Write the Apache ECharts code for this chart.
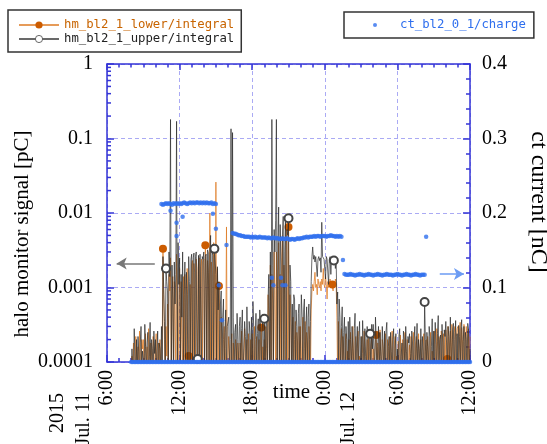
<!DOCTYPE html>
<html>
<head>
<meta charset="utf-8">
<script src="https://cdn.jsdelivr.net/npm/echarts@6/dist/echarts.min.js"></script>
<style>
  html, body { margin: 0; padding: 0; background: #fff; }
  #chart { width: 547px; height: 444px; }
</style>
</head>
<body>
<div id="chart"></div>
<script>
// hours are counted from Jul. 11 0:00
// halo monitor: one reading every 3.75 min starting at 8:00, 16 per row (= 1 hour)
const hmStart = 8
const hmStep = 0.0625

// hm_bl2_1_lower/integral in fC (1000 fC = 1 pC); values under 0.1 fC fall below the axis
const lowerIntegralFc = [
  .06, .12, .06, .18, .1, .06, .22, .14, .06, .16, .06, .26, .12, .06, .2, .15,
  .2, .06, .13, .24, .06, .16, .06, .28, .15, .06, .18, .12, .06, .22, .16, .06,
  .14, .24, .06, .12, .18, .06, .2, .1, .06, .16, 3.3, .8, .2, .06, .3, .12,
  .6, .06, 1.5, .9, 2.5, .06, .8, 1.4, .06, 1.2, .5, .06, 2.8, .9, .06, .6,
  1.8, .06, 1.2, .2, .06, 1.4, .06, 1.5, .9, .06, 1.8, .4, .12, .06, 1.1, .06,
  2, 2.3, .06, 2.1, 1.6, .06, 2.4, 1.8, .06, 2.2, 2.5, .06, 1.9, 2.4, .06, 2.2,
  2.4, .06, 3.7, 2, .06, 2.3, 1.6, .06, 10, .06, 2.2, 1.5, .06, 4, 2, .06,
  26, .06, 1.8, .06, 1.05, .5, .06, .4, .25, .06, .2, .3, .06, .15, 6.5, .06,
  .06, .22, .12, .06, .16, .24, .06, .18, .1, .06, .2, .15, .06, .18, .12, .06,
  .18, .06, .26, .12, .06, .14, .28, .06, .12, .2, .06, .24, .16, .06, .2, .1,
  .24, .06, .15, .3, .06, .16, .22, .06, .12, .2, .06, .18, .29, .06, .16, .06,
  .2, .06, .3, .15, .06, .8, .4, .06, 2, .06, 1.5, .7, .06, 3, .9, .06,
  3, .06, 1.2, 4, .06, 1.5, .06, 2.5, 5, .06, 2, .8, .06, 6, 3, .06,
  6.5, .06, .8, .5, .06, .3, .4, .06, .2, .35, .06, .25, .18, .06, .3, .06,
  .3, .06, .2, .4, .06, .15, .35, .06, .25, .18, .06, .3, .2, .06, .5, .9,
  1.1, .9, 1.2, 1.6, 1, 1.1, .8, 1.3, 1.1, 1, 1.2, .9, 1.3, 1.1, 1.8, 1.1,
  1, 1.4, 1.1, .7, 1.2, 1, 1.1, 1.3, 1, 1.1, 1.1, .9, 1.2, 1, 1.3, 1.1,
  .4, .06, .35, .2, .06, .16, .28, .06, .22, .12, .06, .18, .24, .06, .14, .06,
  .2, .06, .25, .14, .06, .3, .12, .06, .18, .22, .06, .15, .26, .06, .12, .06,
  .06, .22, .13, .06, .26, .16, .06, .1, .2, .06, .24, .14, .06, .17, .21, .06,
  .15, .06, .12, .2, .23, .06, .18, .14, .06, .27, .12, .06, .2, .16, .06, .16,
  .24, .12, .06, .2, .15, .06, .22, .1, .06, .26, .14, .06, .18, .22, .06, .12,
  .06, .19, .14, .06, .23, .12, .06, .2, .16, .06, .25, .13, .06, .2, .15, .06,
  .17, .06, .22, .13, .06, .25, .15, .06, .18, .22, .06, .14, .24, .06, .16, .2,
  .21, .06, .16, .24, .06, .14, .2, .06, .22, .12, .06, .18, .25, .06, .14, .06,
  .06, .26, .15, .06, .28, .19, .06, .22, .14, .06, .26, .2, .06, .24, .17, .06,
  .27, .06, .11, .3, .06, .18, .26, .06, .32, .2, .06, .25, .3, .06, .22, .28,
  .3, .06, .26, .34, .06, .29, .2, .06, .32, .25, .06, .3, .22, .06, .28, .06,
  .22
]

// hm_bl2_1_upper/integral in fC
const upperIntegralFc = [
  .06, .15, .09, .06, .28, .12, .06, .2, .06, .22, .14, .06, .18, .3, .06, .14,
  .11, .06, .32, .16, .06, .18, .25, .06, .12, .34, .06, .2, .15, .06, .26, .13,
  .2, .06, .14, .26, .06, .18, .15, .06, .3, .06, 2.6, .9, .35, .06, 1.8, 1.2,
  .9, .06, 3, 1.4, 180, .06, 2, .7, .06, 2.2, .6, 1.5, 170, .06, 4, 1.1,
  2.5, .06, 1.5, .4, 3, .06, .8, 2.2, .06, 1.6, .8, .06, 2.6, 1.2, .06, 2.4,
  2.8, .06, 2.5, 2.9, .06, 2.6, 3, .06, .11, 2.7, .06, 2.8, 2.9, .06, 2.6, 2.4,
  3, .06, 2.6, 2.8, .06, 3.2, 2.9, .06, 2.8, 5, .06, 3.1, 2.7, .06, 3.3, 3.4,
  1.5, .06, 1.9, .5, 1.2, .06, .6, .9, .06, .4, .7, .06, .25, .5, .06, .3,
  .3, .4, .06, .2, 135, .06, 120, .4, .06, .25, .32, .06, .45, .2, .06, .3,
  .4, .06, .28, .5, .06, .15, .35, .22, .06, .55, .18, .06, .35, .25, .06, .4,
  .06, .65, .3, .06, .2, .45, .06, .24, .38, .06, .5, .3, .06, .28, .36, .06,
  .38, .06, .3, .4, .06, .7, 1.5, .06, 3, .06, 180, 2, .06, 6, 3, 8,
  180, .06, 4, 12, .06, 7, 2, .06, 5, 9, .06, 3, 9, .06, 6, 5,
  8.5, .06, 2, 1.2, .06, .6, .06, .8, .7, .06, .5, .3, .06, .45, .6, .06,
  .06, .8, .4, .06, .5, .7, .06, .3, .55, .06, .4, .6, .06, .35, 1.2, 2.6,
  3.5, 2.4, 2.7, 2.2, 2.6, 2.5, 1.4, 2.4, 2.6, 2.3, 2.5, 1.6, 7.5, 2.6, 2.5, 2.4,
  2.5, 1.3, 2.6, 2.4, 2.5, 1.1, 2.4, 2.6, 1.5, 2.5, 2.6, 2.4, 2.3, 2.5, 1.8, 2.4,
  .6, .87, .06, .7, .4, .06, .3, .55, .06, .25, .4, .06, .3, .2, .06, .35,
  .06, .4, .2, .06, .3, .15, .06, .28, .45, .06, .18, .3, .06, .22, .35, .06,
  .22, .06, .36, .18, .06, .28, .12, .06, .3, .2, .06, .26, .24, .06, .32, .15,
  .32, .14, .06, .4, .2, .06, .16, .3, .06, .25, .12, .06, .3, .18, .06, .26,
  .06, .26, .34, .06, .16, .22, .06, .25, .14, .06, .2, .28, .06, .15, .24, .06,
  .15, .06, .22, .28, .06, .12, .18, .06, .26, .2, .06, .3, .14, .06, .22, .18,
  .24, .13, .06, .26, .18, .06, .19, .3, .06, .15, .33, .06, .2, .15, .06, .28,
  .06, .22, .14, .06, .64, .2, .06, .25, .16, .06, .3, .22, .06, .16, .38, .06,
  .26, .06, .34, .17, .06, .24, .42, .06, .2, .23, .06, .32, .18, .06, .27, .22,
  .35, .18, .06, .3, .22, .06, .4, .16, .06, .27, .33, .06, .2, .36, .06, .24,
  .06, .31, .22, .06, .28, .37, .06, .19, .3, .06, .25, .2, .06, .33, .28, .06,
  .15
]

// hours where the plotting program drew a marker on each line
const lowerMarks = [10.625, 12.75, 14.125, 15.25, 18.75, 21.0, 24.625, 28.25, 34.125]
const upperMarks = [10.875, 13.5, 14.875, 19.0, 21.0, 24.75, 27.75, 32.25]

// ct_bl2_0_1/charge [nC]: one reading every 7.5 min from 8:00, 8 per row (0 = no beam)
const ctStart = 8
const ctStep = 0.125
const ctCharge = [
  0, 0, 0, 0, 0, 0, 0, 0,
  0, 0, 0, 0, 0, 0, 0, 0,
  0, 0, 0, 0, .212, .211, .212, .213,
  .212, .213, .212, .211, .213, .212, .213, .212,
  .213, .212, .213, .214, .213, .212, .213, .214,
  .213, .214, .213, .214, .214, .213, .214, .213,
  .214, .213, .214, .213, .213, .214, .212, .213,
  .212, 0, 0, 0, 0, 0, 0, 0,
  0, 0, 0, .173, .172, .172, .171, .170,
  .170, .169, .169, .168, .168, .168, .168, .167,
  .168, .167, .168, .167, .167, .168, .167, .167,
  .167, .167, .166, .167, .166, .166, .167, .166,
  .166, .166, .165, .165, .166, .165, .165, .166,
  .165, .164, .165, .165, .164, .165, .166, .165,
  .166, .166, .167, .167, .168, .167, .168, .168,
  .168, .169, .168, .169, .169, .168, .169, .169,
  .169, .168, .169, .169, .170, .169, .169, .168,
  .169, .168, .169, .168, .137, .118, .117, .117,
  .117, .118, .117, .117, .116, .117, .117, .118,
  .117, .117, .116, .117, .117, .118, .117, .117,
  .116, .117, .117, .118, .117, .117, .116, .117,
  .117, .118, .117, .117, .117, .116, .117, .117,
  .118, .117, .117, .116, .117, .117, .118, .117,
  .117, .116, .117, .117, .118, .117, .117, .116,
  .117, .117, .117, .168, 0, 0, 0, 0,
  0, 0, 0, 0, 0, 0, 0, 0,
  0, 0, 0, 0, 0, 0, 0, 0,
  0, 0, 0, 0, 0, 0, 0, 0,
  0
]
// stray charge readings while the beam was switching [hour, nC]
const ctStray = [
  [11.25, .203], [11.75, .187], [11.75, .169], [12.25, .195], [14.75, .199],
  [15.0, .179], [15.25, .103], [15.5, .056], [15.875, .157],
  [19.625, .113], [19.75, .103], [20.375, .113], [20.5, .103], [20.75, .103]
]

const dateNotes = ['2015', 'Jul. 11', 'Jul. 12']

const axisBlue = '#3434d6'
const gridBlue = 'rgba(100,100,235,0.55)'
const orange = '#cc5c00'
const serif = 'Liberation Serif'
const mono = 'DejaVu Sans Mono'

const chart = echarts.init(document.getElementById('chart'))

function hasMark(list, t) {
  return list.some(m => Math.abs(m - t) < 1e-6)
}

// fC -> pC line data, with a marker only on the listed hours
function lineData(valsFc, marks, mark) {
  return valsFc.map((v, i) => {
    const t = hmStart + i * hmStep
    const pc = v / 1000
    if (hasMark(marks, t)) {
      return Object.assign({ value: [t, pc] }, mark)
    }
    return [t, pc]
  })
}

// charge readings: level, the zero readings between pulses, strays
let ctPoints = []
ctCharge.forEach((v, i) => {
  const t = ctStart + i * ctStep
  ctPoints.push([t, v])
  if (v > 0) ctPoints.push([t, 0])
})
ctPoints = ctPoints.concat(ctStray)

// minor ticks of the log axis (2..9 in each decade)
let logMinor = []
for (let d = -4; d < 0; d++) {
  for (let k = 2; k <= 9; k++) logMinor.push(k * Math.pow(10, d))
}

const tickLabel = { fontFamily: serif, fontSize: 20, color: '#000' }

const option = {
  animation: false,
  backgroundColor: '#fff',
  textStyle: { fontFamily: serif },
  grid: { left: 107, right: 77, top: 64, bottom: 82, containLabel: false, outerBoundsMode: 'none' },
  legend: [
    {
      left: 8, top: 10, orient: 'vertical',
      padding: [9, 7, 7, 10], itemGap: 2, itemWidth: 40, itemHeight: 9,
      borderColor: '#333', borderWidth: 1.5, backgroundColor: '#fff',
      selectedMode: false,
      textStyle: { fontFamily: mono, fontSize: 12.3 },
      data: [
        { name: 'hm_bl2_1_lower/integral', textStyle: { color: '#c86400' } },
        { name: 'hm_bl2_1_upper/integral', textStyle: { color: '#222' },
          itemStyle: { color: '#fff', borderColor: '#444', borderWidth: 0.8 } }
      ]
    },
    {
      left: 344, top: 12, orient: 'vertical',
      padding: [7, 8, 7, 29], itemWidth: 40, itemHeight: 4,
      borderColor: '#333', borderWidth: 1.5, backgroundColor: '#fff',
      selectedMode: false,
      textStyle: { fontFamily: mono, fontSize: 12.3 },
      data: [{ name: 'ct_bl2_0_1/charge', textStyle: { color: '#2f6fee' } }]
    }
  ],
  xAxis: [
    {
      type: 'value', position: 'bottom', min: 6, max: 36, interval: 6,
      name: 'time', nameLocation: 'middle', nameGap: 20, nameMoveOverlap: false,
      nameTextStyle: { fontFamily: serif, fontSize: 21, color: '#000', padding: [0, 0, 0, 6] },
      axisLine: { onZero: false, lineStyle: { color: axisBlue, width: 1.5 } },
      axisTick: { inside: true, length: 7, lineStyle: { color: axisBlue, width: 1.5 } },
      minorTick: { show: true, splitNumber: 6, length: 4, lineStyle: { color: axisBlue, width: 1.5 } },
      axisLabel: Object.assign({ rotate: 90, margin: 8, formatter: v => (v % 24) + ':00' }, tickLabel),
      splitLine: { show: true, lineStyle: { color: gridBlue, type: [4, 3], width: 1 } }
    },
    {
      type: 'value', position: 'top', min: 6, max: 36, interval: 6,
      axisLine: { onZero: false, lineStyle: { color: axisBlue, width: 1.5 } },
      axisTick: { inside: true, length: 6, lineStyle: { color: axisBlue, width: 1.5 } },
      minorTick: { show: true, splitNumber: 6, length: 3.5, lineStyle: { color: axisBlue, width: 1.5 } },
      axisLabel: { show: false },
      splitLine: { show: false }
    }
  ],
  yAxis: [
    {
      type: 'log', logBase: 10, min: 1e-4, max: 1, position: 'left',
      name: 'halo monitor signal [pC]', nameLocation: 'middle', nameGap: 74, nameMoveOverlap: false,
      nameTextStyle: { fontFamily: serif, fontSize: 21, color: '#000', padding: [0, 42, 0, 0] },
      axisLine: { onZero: false, lineStyle: { color: axisBlue, width: 1.5 } },
      axisTick: { inside: true, length: 7, lineStyle: { color: axisBlue, width: 1.5 } },
      axisLabel: Object.assign({ margin: 14, formatter: v => String(parseFloat(v.toPrecision(3))) }, tickLabel),
      splitLine: { show: true, lineStyle: { color: gridBlue, type: [4, 3], width: 1 } }
    },
    {
      type: 'value', min: 0, max: 0.4, interval: 0.1, position: 'right',
      name: 'ct current [nC]', nameLocation: 'middle', nameGap: 56, nameRotate: -90, nameMoveOverlap: false,
      nameTextStyle: { fontFamily: serif, fontSize: 24, color: '#000', padding: [0, 22, 0, 0] },
      axisLine: { onZero: false, lineStyle: { color: axisBlue, width: 1.5 } },
      axisTick: { inside: true, length: 7, lineStyle: { color: axisBlue, width: 1.5 } },
      minorTick: { show: true, splitNumber: 5, length: 4, lineStyle: { color: axisBlue, width: 1.5 } },
      axisLabel: Object.assign({ margin: 12 }, tickLabel),
      splitLine: { show: false }
    }
  ],
  graphic: [
    { type: 'text', x: 58, y: 393, rotation: Math.PI / 2,
      style: { text: dateNotes[0], font: '20px "Liberation Serif"', fill: '#000', textAlign: 'right', textVerticalAlign: 'middle' } },
    { type: 'text', x: 84, y: 393, rotation: Math.PI / 2,
      style: { text: dateNotes[1], font: '20px "Liberation Serif"', fill: '#000', textAlign: 'right', textVerticalAlign: 'middle' } },
    { type: 'text', x: 349, y: 392, rotation: Math.PI / 2,
      style: { text: dateNotes[2], font: '20px "Liberation Serif"', fill: '#000', textAlign: 'right', textVerticalAlign: 'middle' } }
  ],
  series: [
    {
      name: 'hm_bl2_1_lower/integral', type: 'line', xAxisIndex: 0, yAxisIndex: 0, z: 2,
      symbol: 'none', showSymbol: true,
      color: orange,
      lineStyle: { color: '#dd7a22', width: 1, opacity: 0.75 },
      itemStyle: { color: orange },
      data: lineData(lowerIntegralFc, lowerMarks, {
        symbol: 'circle', symbolSize: 8, itemStyle: { color: orange }, z: 5
      })
    },
    {
      name: 'hm_bl2_1_upper/integral', type: 'line', xAxisIndex: 0, yAxisIndex: 0, z: 3,
      symbol: 'none', showSymbol: true,
      color: '#2a2a2a',
      lineStyle: { color: '#2a2a2a', width: 1, opacity: 0.7 },
      itemStyle: { color: '#444' },
      data: lineData(upperIntegralFc, upperMarks, {
        symbol: 'emptyCircle', symbolSize: 8,
        itemStyle: { color: '#444', borderColor: '#444', borderWidth: 0.8 }
      }),
      markLine: {
        silent: true, symbol: ['arrow', 'none'], symbolSize: [9, 10],
        label: { show: false },
        lineStyle: { color: '#777', type: 'solid', width: 1.5 },
        data: [[{ coord: [6.8, 2.1e-3] }, { coord: [9.95, 2.1e-3] }]]
      }
    },
    {
      name: 'ct_bl2_0_1/charge', type: 'scatter', xAxisIndex: 0, yAxisIndex: 1, z: 4,
      symbol: 'circle', symbolSize: 4.5,
      itemStyle: { color: '#2f6fee' },
      data: ctPoints,
      markLine: {
        silent: true, symbol: ['none', 'arrow'], symbolSize: [9, 10],
        label: { show: false },
        lineStyle: { color: '#6b9bf3', type: 'solid', width: 1.5 },
        data: [[{ coord: [33.5, 0.118] }, { coord: [35.5, 0.118] }]]
      }
    },
    {
      name: 'logMinorTicks', type: 'custom', xAxisIndex: 0, yAxisIndex: 0, z: 5,
      silent: true, clip: false,
      data: logMinor.map(v => [6, v]),
      renderItem: (params, api) => {
        const p = api.coord([api.value(0), api.value(1)])
        return {
          type: 'line',
          shape: { x1: p[0], y1: p[1], x2: p[0] + 4, y2: p[1] },
          style: { stroke: axisBlue, lineWidth: 1.5 }
        }
      }
    }
  ]
}

chart.setOption(option)
</script>
</body>
</html>
